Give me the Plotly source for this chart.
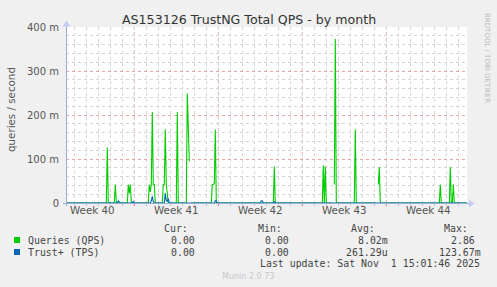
import plotly.graph_objects as go

# ---------------- data ----------------
qps_time = [
    "2025-09-29 07:00",
    "2025-10-02 16:00", "2025-10-02 18:00", "2025-10-02 20:00",
    "2025-10-03 08:00", "2025-10-03 10:00", "2025-10-03 12:00",
    "2025-10-04 10:00", "2025-10-04 12:00", "2025-10-04 14:00", "2025-10-04 16:00", "2025-10-04 18:00",
    "2025-10-06 04:00", "2025-10-06 06:00", "2025-10-06 08:00", "2025-10-06 10:00", "2025-10-06 12:00",
    "2025-10-06 14:00", "2025-10-06 16:00", "2025-10-06 18:00",
    "2025-10-07 08:00", "2025-10-07 10:00", "2025-10-07 12:00", "2025-10-07 14:00", "2025-10-07 16:00",
    "2025-10-07 18:00", "2025-10-07 20:00",
    "2025-10-08 12:00", "2025-10-08 14:00", "2025-10-08 16:00",
    "2025-10-09 08:00", "2025-10-09 10:00", "2025-10-09 14:00", "2025-10-09 16:00", "2025-10-09 18:00",
    "2025-10-11 10:00", "2025-10-11 12:00", "2025-10-11 14:00", "2025-10-11 16:00", "2025-10-11 18:00",
    "2025-10-11 20:00",
    "2025-10-16 14:00", "2025-10-16 16:00", "2025-10-16 18:00",
    "2025-10-20 16:00", "2025-10-20 18:00", "2025-10-20 20:00", "2025-10-20 22:00", "2025-10-21 00:00",
    "2025-10-21 12:00", "2025-10-21 14:00", "2025-10-21 16:00", "2025-10-21 18:00", "2025-10-21 20:00",
    "2025-10-23 08:00", "2025-10-23 10:00", "2025-10-23 12:00",
    "2025-10-25 04:00", "2025-10-25 06:00", "2025-10-25 08:00", "2025-10-25 10:00", "2025-10-25 12:00",
    "2025-10-30 10:00", "2025-10-30 12:00", "2025-10-30 14:00",
    "2025-10-31 06:00", "2025-10-31 08:00", "2025-10-31 10:00", "2025-10-31 12:00", "2025-10-31 14:00",
    "2025-10-31 16:00",
    "2025-11-01 17:00",
]
qps_value = [
    0,
    0, 0.126, 0,
    0, 0.042, 0,
    0, 0.042, 0.022, 0.042, 0,
    0, 0.042, 0.025, 0.042, 0.207,
    0.042, 0.042, 0,
    0, 0.042, 0.042, 0.167, 0.042,
    0.020, 0,
    0, 0.207, 0,
    0, 0.249, 0.095, None, 0,
    0, 0.042, 0.042, 0.045, 0.167,
    0,
    0, 0.083, 0,
    0, 0.086, 0, 0.083, 0,
    0, None, 0.042, 0.373, 0,
    0, 0.167, 0,
    0, None, 0.042, 0.082, 0,
    0, 0.042, 0,
    0, 0.082, 0, 0, 0.042,
    0,
    0,
]

tps_time = [
    "2025-09-29 07:00",
    "2025-10-03 14:00", "2025-10-03 16:00", "2025-10-03 18:00", "2025-10-03 20:00",
    "2025-10-04 20:00", "2025-10-04 22:00", "2025-10-05 00:00",
    "2025-10-06 08:00", "2025-10-06 10:00", "2025-10-06 12:00", "2025-10-06 14:00", "2025-10-06 16:00",
    "2025-10-07 12:00", "2025-10-07 14:00", "2025-10-07 16:00", "2025-10-07 18:00", "2025-10-07 20:00",
    "2025-10-07 22:00",
    "2025-10-11 16:00", "2025-10-11 18:00", "2025-10-11 20:00", "2025-10-11 22:00",
    "2025-10-15 12:00", "2025-10-15 14:00", "2025-10-15 16:00", "2025-10-15 18:00",
    "2025-10-16 14:00", "2025-10-16 16:00", "2025-10-16 18:00",
    "2025-11-01 17:00",
]
tps_value = [
    0,
    0, 0.005, 0.003, 0,
    0, 0.004, 0,
    0, 0.005, 0.015, 0.003, 0,
    0, 0.022, 0.005, 0.004, 0.010,
    0,
    0, 0.005, 0.004, 0,
    0, 0.005, 0.005, 0,
    0, 0.003, 0,
    0,
]

week_boundaries = ["2025-09-28", "2025-10-05", "2025-10-12", "2025-10-19", "2025-10-26", "2025-11-02"]
week_centers = ["2025-10-01 12:00", "2025-10-08 12:00", "2025-10-15 12:00", "2025-10-22 12:00", "2025-10-29 12:00"]
week_labels = ["Week 40", "Week 41", "Week 42", "Week 43", "Week 44"]

y_tickvals = [0, 0.1, 0.2, 0.3, 0.4]
y_ticktext = ["0", "100 m", "200 m", "300 m", "400 m"]

series_names = ["Queries (QPS)", "Trust+ (TPS)"]
series_colors = ["#00CC00", "#0066B3"]
stat_headers = ["Cur:", "Min:", "Avg:", "Max:"]
stats = [
    ["0.00", "0.00", "8.02m", "2.86"],
    ["0.00", "0.00", "261.29u", "123.67m"],
]
last_update = "Last update: Sat Nov  1 15:01:46 2025"

# ---------------- layout geometry ----------------
W, H = 497, 287
L, R, T, B = 66, 30, 27, 84
PW, PH = W - L - R, H - T - B


def px(x):
    return (x - L) / PW


def py(y):
    return (T + PH - y) / PH


fig = go.Figure()
fig.add_trace(go.Scatter(x=qps_time, y=qps_value, mode="lines", name=series_names[0],
                         line=dict(color=series_colors[0], width=1.1), connectgaps=False,
                         hoverinfo="skip"))
fig.add_trace(go.Scatter(x=tps_time, y=tps_value, mode="lines", name=series_names[1],
                         line=dict(color=series_colors[1], width=1.1), connectgaps=False,
                         hoverinfo="skip"))

grid_gray = "#D4D4D4"
grid_red = "#EBA3A3"
axis_col = "#9AAADC"

fig.update_layout(
    width=W, height=H,
    margin=dict(l=L, r=R, t=T, b=B, pad=0),
    paper_bgcolor="#F0F0F0",
    plot_bgcolor="#FFFFFF",
    showlegend=False,
    font=dict(family="DejaVu Sans", size=10, color="#555555"),
    xaxis=dict(
        type="date",
        range=["2025-09-29 07:24", "2025-11-01 17:24"],
        tickmode="array", tickvals=week_centers, ticktext=week_labels,
        showgrid=False, zeroline=False, showline=False,
        ticks="", tickfont=dict(family="DejaVu Sans", size=10.3, color="#555555"),
        minor=dict(dtick=86400000, tick0="2025-09-28", showgrid=True, gridcolor=grid_gray,
                   griddash="dot", gridwidth=1, ticks="outside", ticklen=2, tickcolor="#C8C8C8"),
        fixedrange=True,
    ),
    yaxis=dict(
        range=[0, 0.4],
        tickmode="array", tickvals=y_tickvals, ticktext=y_ticktext,
        showgrid=True, gridcolor=grid_red, griddash="dot", gridwidth=1,
        zeroline=False, showline=False, ticks="", ticklabelstandoff=6,
        tickfont=dict(family="DejaVu Sans", size=10, color="#555555"),
        minor=dict(dtick=0.02, tick0=0, showgrid=True, gridcolor=grid_gray, griddash="dot", gridwidth=1),
        fixedrange=True,
    ),
)

shapes = []
# red weekly major grid lines
for wb in week_boundaries:
    shapes.append(dict(type="line", xref="x", yref="paper", x0=wb, x1=wb, y0=0, y1=1,
                       line=dict(color=grid_red, width=1, dash="dot"), layer="between"))
    shapes.append(dict(type="line", xref="x", yref="paper", x0=wb, x1=wb, y0=py(203), y1=py(206),
                       line=dict(color="#E88080", width=1), layer="above"))
# axes with arrows
shapes.append(dict(type="line", xref="paper", yref="paper", x0=px(63), x1=px(470), y0=py(203.5), y1=py(203.5),
                   line=dict(color=axis_col, width=1), layer="above"))
shapes.append(dict(type="line", xref="paper", yref="paper", x0=px(66.5), x1=px(66.5), y0=py(206), y1=py(25),
                   line=dict(color=axis_col, width=1), layer="above"))
shapes.append(dict(type="path", xref="paper", yref="paper",
                   path=f"M {px(469)} {py(199.5)} L {px(474.5)} {py(203.5)} L {px(469)} {py(207.5)} Z",
                   fillcolor="#C4CCF2", line=dict(width=0), layer="above"))
shapes.append(dict(type="path", xref="paper", yref="paper",
                   path=f"M {px(62.5)} {py(26.5)} L {px(66.5)} {py(20.5)} L {px(70.5)} {py(26.5)} Z",
                   fillcolor="#C4CCF2", line=dict(width=0), layer="above"))
# legend swatches
for i, c in enumerate(series_colors):
    yc = 240 + 12 * i
    shapes.append(dict(type="rect", xref="paper", yref="paper", x0=px(14), x1=px(20), y0=py(yc + 3), y1=py(yc - 3),
                       fillcolor=c, line=dict(width=0)))
fig.update_layout(shapes=shapes)

mono = dict(family="DejaVu Sans Mono", size=9.9, color="#444444")
ann = []


def text(t, x, y, anchor="left", font=None, angle=0):
    ann.append(dict(text=t, xref="paper", yref="paper", x=px(x), y=py(y), xanchor=anchor, yanchor="middle",
                    showarrow=False, font=font or mono, textangle=angle))


text("AS153126 TrustNG Total QPS - by month", 248.5, 19.5, "center",
     dict(family="DejaVu Sans", size=12.6, color="#333333"))
text("queries / second", 11, 110, "center", dict(family="DejaVu Sans", size=10.3, color="#555555"), -90)
text("RRDTOOL / TOBI OETIKER", 487, 58, "center", dict(family="DejaVu Sans", size=7, color="#BBBBBB"), 90)

header_right = [190, 284, 377, 470]
for h, xr in zip(stat_headers, header_right):
    text(h, xr, 228, "right")
col_right = [[197, 291, 390, 477], [197, 291, 390, 483]]
for i, name in enumerate(series_names):
    yc = 240 + 12 * i
    text(name, 26, yc, "left")
    for v, xr in zip(stats[i], col_right[i]):
        text(v, xr, yc, "right")
text(last_update.replace("  ", "\u00a0\u00a0"), 482, 263.5, "right")
text("Munin 2.0.73", 248, 276, "center", dict(family="DejaVu Sans", size=8, color="#C8C8C8"))
fig.update_layout(annotations=ann)

fig.write_html("out.html")
